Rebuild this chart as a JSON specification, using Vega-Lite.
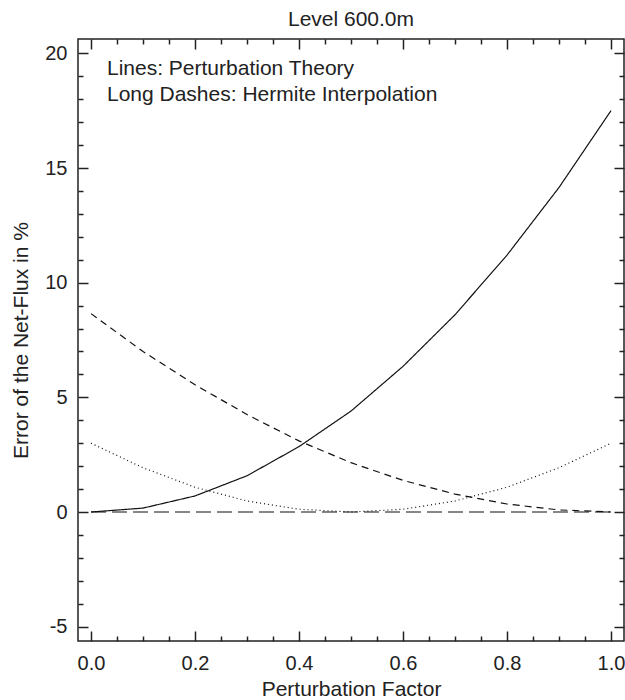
{
  "$schema": "https://vega.github.io/schema/vega-lite/v6.json",
  "width": 546,
  "height": 602,
  "autosize": {"type": "none"},
  "padding": {"left": 78, "top": 39, "right": 1, "bottom": 59},
  "background": "white",
  "config": {
    "font": "Liberation Sans",
    "view": {"stroke": "#222", "strokeWidth": 1.5},
    "axis": {
      "grid": false,
      "domain": false,
      "tickColor": "#222",
      "tickWidth": 1.5,
      "labelColor": "#222",
      "labelFontSize": 20,
      "labelFont": "Liberation Sans",
      "titleFont": "Liberation Sans",
      "titleFontSize": 21,
      "titleFontWeight": "normal",
      "titleColor": "#222",
      "labelOverlap": false,
      "labelFlush": false,
      "labelBound": false
    }
  },
  "title": {
    "text": "Level 600.0m",
    "fontSize": 21,
    "fontWeight": "normal",
    "color": "#222",
    "font": "Liberation Sans",
    "anchor": "middle",
    "baseline": "alphabetic",
    "offset": -9
  },
  "layer": [
    {
      "data": {
        "values": [
          {"series": "pert", "x": 0.0, "y": 0.0},
          {"series": "pert", "x": 0.1, "y": 0.17},
          {"series": "pert", "x": 0.2, "y": 0.7},
          {"series": "pert", "x": 0.3, "y": 1.58},
          {"series": "pert", "x": 0.4, "y": 2.85},
          {"series": "pert", "x": 0.5, "y": 4.4},
          {"series": "pert", "x": 0.6, "y": 6.35},
          {"series": "pert", "x": 0.7, "y": 8.6},
          {"series": "pert", "x": 0.8, "y": 11.2},
          {"series": "pert", "x": 0.9, "y": 14.15},
          {"series": "pert", "x": 1.0, "y": 17.5},
          {"series": "short", "x": 0.0, "y": 8.65},
          {"series": "short", "x": 0.1, "y": 7.0},
          {"series": "short", "x": 0.2, "y": 5.55},
          {"series": "short", "x": 0.3, "y": 4.25},
          {"series": "short", "x": 0.4, "y": 3.1},
          {"series": "short", "x": 0.5, "y": 2.15},
          {"series": "short", "x": 0.6, "y": 1.38},
          {"series": "short", "x": 0.7, "y": 0.78},
          {"series": "short", "x": 0.8, "y": 0.35},
          {"series": "short", "x": 0.9, "y": 0.09},
          {"series": "short", "x": 1.0, "y": 0.0},
          {"series": "dot", "x": 0.0, "y": 3.0},
          {"series": "dot", "x": 0.1, "y": 1.93},
          {"series": "dot", "x": 0.2, "y": 1.08},
          {"series": "dot", "x": 0.3, "y": 0.48},
          {"series": "dot", "x": 0.4, "y": 0.12},
          {"series": "dot", "x": 0.5, "y": 0.0},
          {"series": "dot", "x": 0.6, "y": 0.12},
          {"series": "dot", "x": 0.7, "y": 0.48},
          {"series": "dot", "x": 0.8, "y": 1.08},
          {"series": "dot", "x": 0.9, "y": 1.93},
          {"series": "dot", "x": 1.0, "y": 3.0},
          {"series": "herm", "x": 0.0, "y": 0.0},
          {"series": "herm", "x": 0.1, "y": 0.0},
          {"series": "herm", "x": 0.2, "y": 0.0},
          {"series": "herm", "x": 0.3, "y": 0.0},
          {"series": "herm", "x": 0.4, "y": 0.0},
          {"series": "herm", "x": 0.5, "y": 0.0},
          {"series": "herm", "x": 0.6, "y": 0.0},
          {"series": "herm", "x": 0.7, "y": 0.0},
          {"series": "herm", "x": 0.8, "y": 0.0},
          {"series": "herm", "x": 0.9, "y": 0.0},
          {"series": "herm", "x": 1.0, "y": 0.0}
        ]
      },
      "mark": {"type": "line", "color": "#111", "strokeWidth": 1.2},
      "encoding": {
        "x": {
          "field": "x",
          "type": "quantitative",
          "scale": {"domain": [-0.025, 1.025], "nice": false, "zero": false},
          "axis": {
            "orient": "bottom",
            "title": "Perturbation Factor",
            "titlePadding": 0,
            "values": [0, 0.05, 0.1, 0.15, 0.2, 0.25, 0.3, 0.35, 0.4, 0.45, 0.5, 0.55, 0.6, 0.65, 0.7, 0.75, 0.8, 0.85, 0.9, 0.95, 1.0],
            "labelExpr": "round(datum.value*20)%4==0 ? format(datum.value,'.1f') : ''",
            "tickSize": {"condition": {"test": "round(datum.value*20)%4==0", "value": -10}, "value": -5},
            "labelPadding": 22
          }
        },
        "y": {
          "field": "y",
          "type": "quantitative",
          "scale": {"domain": [-5.625, 20.625], "nice": false, "zero": false},
          "axis": {
            "orient": "left",
            "title": "Error of the Net-Flux in %",
            "titlePadding": 13,
            "values": [-5, -4, -3, -2, -1, 0, 1, 2, 3, 4, 5, 6, 7, 8, 9, 10, 11, 12, 13, 14, 15, 16, 17, 18, 19, 20],
            "labelExpr": "datum.value%5==0 ? '' + datum.value : ''",
            "tickSize": {"condition": {"test": "datum.value%5==0", "value": -10}, "value": -5},
            "labelPadding": 21
          }
        },
        "strokeDash": {
          "field": "series",
          "type": "nominal",
          "scale": {"domain": ["pert", "short", "dot", "herm"], "range": [[1, 0], [7, 5], [1, 3], [15, 6]]},
          "legend": null
        }
      }
    },
    {
      "data": {
        "values": [
          {"x": 0.0307, "y": 19.07, "label": "Lines: Perturbation Theory"},
          {"x": 0.0307, "y": 17.94, "label": "Long Dashes: Hermite Interpolation"}
        ]
      },
      "mark": {"type": "text", "align": "left", "baseline": "alphabetic", "fontSize": 21, "color": "#222", "font": "Liberation Sans"},
      "encoding": {
        "x": {
          "field": "x",
          "type": "quantitative",
          "scale": {"domain": [-0.025, 1.025], "nice": false, "zero": false},
          "axis": {
            "orient": "top",
            "title": null,
            "labels": false,
            "values": [0, 0.05, 0.1, 0.15, 0.2, 0.25, 0.3, 0.35, 0.4, 0.45, 0.5, 0.55, 0.6, 0.65, 0.7, 0.75, 0.8, 0.85, 0.9, 0.95, 1.0],
            "tickSize": {"condition": {"test": "round(datum.value*20)%4==0", "value": -10}, "value": -5}
          }
        },
        "y": {
          "field": "y",
          "type": "quantitative",
          "scale": {"domain": [-5.625, 20.625], "nice": false, "zero": false},
          "axis": {
            "orient": "right",
            "title": null,
            "labels": false,
            "values": [-5, -4, -3, -2, -1, 0, 1, 2, 3, 4, 5, 6, 7, 8, 9, 10, 11, 12, 13, 14, 15, 16, 17, 18, 19, 20],
            "tickSize": {"condition": {"test": "datum.value%5==0", "value": -10}, "value": -5}
          }
        },
        "text": {"field": "label"}
      }
    }
  ],
  "resolve": {"axis": {"x": "independent", "y": "independent"}}
}
